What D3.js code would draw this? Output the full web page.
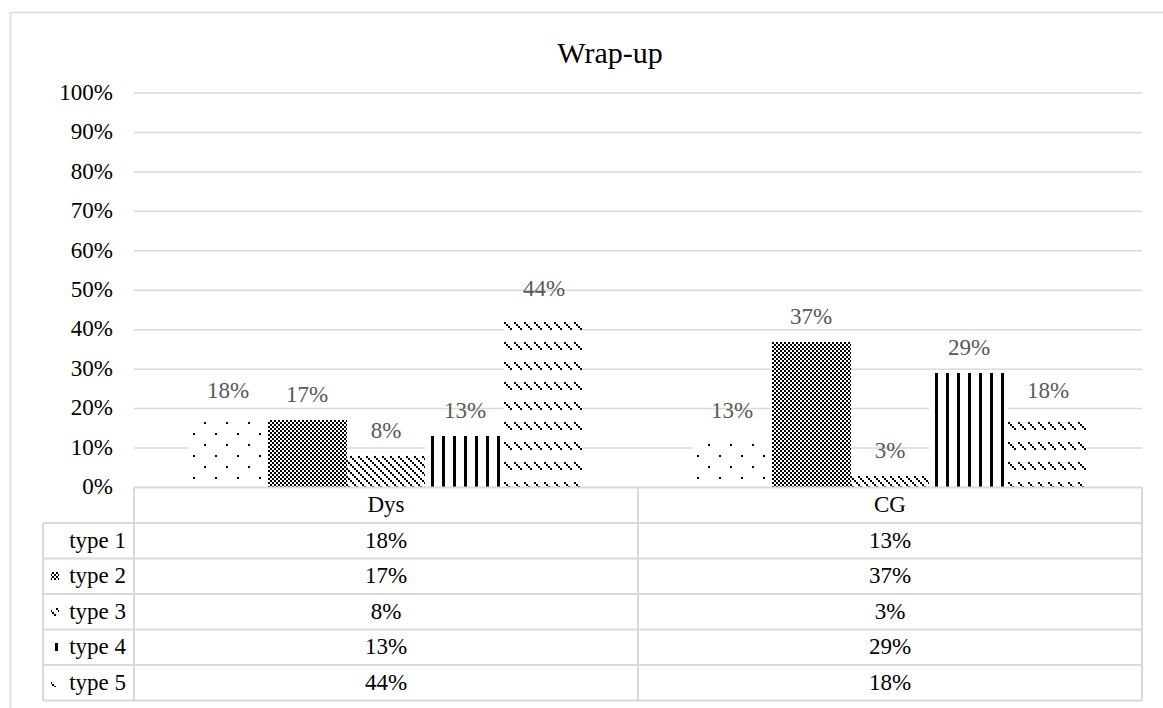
<!DOCTYPE html>
<html>
<head>
<meta charset="utf-8">
<script src="https://cdn.jsdelivr.net/npm/d3@7"></script>
<style>
  html, body { margin: 0; padding: 0; background: #fff; }
  svg { display: block; }
  svg text { font-family: "Liberation Serif", "Times New Roman", serif; }
</style>
</head>
<body>
<svg id="chart" width="1163" height="708"></svg>
<script>
// Groups, series and values (percent)
const categories = ["Dys", "CG"];
const seriesNames = ["type 1", "type 2", "type 3", "type 4", "type 5"];
const dysValues = [18, 17, 8, 13, 44];
const cgValues = [13, 37, 3, 29, 18];
const yTicks = [0, 10, 20, 30, 40, 50, 60, 70, 80, 90, 100];
const chartTitle = "Wrap-up";

const FONT = "Liberation Serif, Times New Roman, serif";
const margin = { left: 134, right: 1142, top: 93, bottom: 487.5 };
const rowH = 35.5;
const labelColLeft = 43;

const svg = d3.select("#chart");
const defs = svg.append("defs");

// Monochrome fill patterns, one per series
function makePattern(id, w, h, draw) {
  const p = defs.append("pattern")
    .attr("id", id)
    .attr("patternUnits", "userSpaceOnUse")
    .attr("width", w).attr("height", h);
  p.append("rect").attr("width", w).attr("height", h).attr("fill", "#fff");
  draw(p);
}
function dot(p, x, y, s) {
  p.append("rect").attr("x", x).attr("y", y).attr("width", s).attr("height", s).attr("fill", "#000");
}
// dotted
makePattern("pat1", 22, 22, p => { dot(p, 4, 4, 2); dot(p, 15, 15, 2); });
// small checker board
makePattern("pat2", 4, 4, p => { dot(p, 0, 0, 2); dot(p, 2, 2, 2); });
// downward diagonal
makePattern("pat3", 8, 8, p => { for (let i = 0; i < 8; i += 2) dot(p, i, i, 2); });
// wide vertical
makePattern("pat4", 11, 11, p => {
  p.append("rect").attr("x", 0).attr("y", 0).attr("width", 3).attr("height", 11).attr("fill", "#000");
});
// dashed downward diagonal
makePattern("pat5", 10, 20, p => { for (let i = 0; i < 8; i += 2) dot(p, i, i + 2, 2); });
const patIds = ["pat1", "pat2", "pat3", "pat4", "pat5"];

// Outer chart border
svg.append("rect")
  .attr("x", 10.5).attr("y", 12.5)
  .attr("width", 1170).attr("height", 720)
  .attr("fill", "none").attr("stroke", "#d9d9d9").attr("stroke-width", 1.5);

// Scales
const x0 = d3.scaleBand().domain(categories).range([margin.left, margin.right]);
const x1 = d3.scaleBand().domain(seriesNames).range([0, x0.bandwidth()]).paddingOuter(0.69).paddingInner(0);
const y = d3.scaleLinear().domain([0, 100]).range([margin.bottom, margin.top]);

// Gridlines
svg.append("g")
  .selectAll("line")
  .data(yTicks.filter(t => t > 0))
  .join("line")
  .attr("x1", margin.left).attr("x2", margin.right)
  .attr("y1", d => y(d)).attr("y2", d => y(d))
  .attr("stroke", "#d9d9d9").attr("stroke-width", 1.5);

// Y axis labels
const yAxis = d3.axisLeft(y).tickValues(yTicks).tickFormat(d => d + "%").tickSize(0).tickPadding(21);
const gy = svg.append("g").attr("transform", `translate(${margin.left},0)`).call(yAxis)
  .attr("font-family", FONT);
gy.select(".domain").remove();
gy.selectAll("text")
  .attr("font-size", 23).attr("fill", "#000").attr("dy", "0.27em");

// Bars
const data = categories.map((c, ci) => ({
  cat: c,
  vals: seriesNames.map((s, si) => ({ s, si, v: (ci === 0 ? dysValues : cgValues)[si] }))
}));

const groups = svg.append("g").selectAll("g")
  .data(data).join("g")
  .attr("transform", d => `translate(${x0(d.cat)},0)`);

groups.selectAll("rect")
  .data(d => d.vals).join("rect")
  .attr("x", d => x1(d.s))
  .attr("y", d => y(d.v))
  .attr("width", x1.bandwidth())
  .attr("height", d => y(0) - y(d.v))
  .attr("fill", d => `url(#${patIds[d.si]})`)
  .attr("shape-rendering", "crispEdges");

// Data labels
groups.selectAll("text")
  .data(d => d.vals).join("text")
  .attr("x", d => x1(d.s) + x1.bandwidth() / 2)
  .attr("y", d => y(d.v) - 18)
  .attr("text-anchor", "middle")
  .attr("font-family", FONT)
  .attr("font-size", 23).attr("fill", "#595959")
  .text(d => d.v + "%");

// Data table below the plot
const tbl = svg.append("g").attr("font-family", FONT);
const border = "#d9d9d9";
const rowsY = d3.range(0, seriesNames.length + 2).map(i => margin.bottom + i * rowH);
const tableBottom = rowsY[rowsY.length - 1];

rowsY.forEach((ry, i) => {
  tbl.append("line")
    .attr("x1", i === 0 ? margin.left : labelColLeft).attr("x2", margin.right)
    .attr("y1", ry).attr("y2", ry)
    .attr("stroke", border).attr("stroke-width", 2);
});
[margin.left, x0("CG"), margin.right].forEach(vxi => {
  tbl.append("line")
    .attr("x1", vxi).attr("x2", vxi)
    .attr("y1", margin.bottom).attr("y2", tableBottom)
    .attr("stroke", border).attr("stroke-width", 2);
});
tbl.append("line")
  .attr("x1", labelColLeft).attr("x2", labelColLeft)
  .attr("y1", rowsY[1]).attr("y2", tableBottom)
  .attr("stroke", border).attr("stroke-width", 2);

// Header row
categories.forEach(c => {
  tbl.append("text")
    .attr("x", x0(c) + x0.bandwidth() / 2)
    .attr("y", rowsY[0] + rowH / 2 + 7)
    .attr("text-anchor", "middle")
    .attr("font-size", 23).attr("fill", "#000")
    .text(c);
});

// Series rows with legend keys
seriesNames.forEach((s, si) => {
  const cy = rowsY[si + 1] + rowH / 2;
  tbl.append("rect")
    .attr("x", 51).attr("y", cy - 4)
    .attr("width", 8).attr("height", 8)
    .attr("fill", `url(#${patIds[si]})`)
    .attr("shape-rendering", "crispEdges");
  tbl.append("text")
    .attr("x", 126).attr("y", cy + 7)
    .attr("text-anchor", "end")
    .attr("font-size", 23).attr("fill", "#000")
    .text(s);
  [dysValues, cgValues].forEach((arr, ci) => {
    tbl.append("text")
      .attr("x", x0(categories[ci]) + x0.bandwidth() / 2)
      .attr("y", cy + 7)
      .attr("text-anchor", "middle")
      .attr("font-size", 23).attr("fill", "#000")
      .text(arr[si] + "%");
  });
});

// Title
svg.append("text")
  .attr("x", 610).attr("y", 63)
  .attr("text-anchor", "middle")
  .attr("font-family", FONT)
  .attr("font-size", 30).attr("fill", "#000")
  .text(chartTitle);
</script>
</body>
</html>
